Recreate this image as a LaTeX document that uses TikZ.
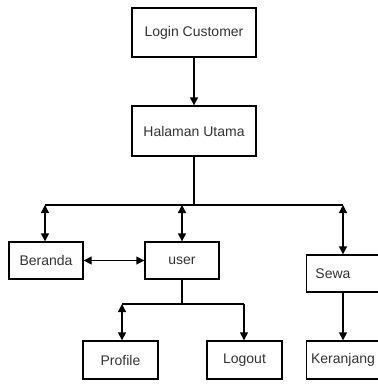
\documentclass[tikz,border=0pt]{standalone}
\usepackage{fontspec}
\setmainfont{Liberation Sans}
\usetikzlibrary{arrows.meta}
\begin{document}
\begin{tikzpicture}[x=1pt,y=-1pt,
  box/.style={draw, line width=1.3pt, inner sep=0pt, font=\fontsize{14}{16}\selectfont, text=black!80},
  conn/.style={line width=1.3pt},
  tip/.style={-{Triangle[length=8pt,width=8pt]}},
  tips/.style={{Triangle[length=8pt,width=8pt]}-{Triangle[length=8pt,width=8pt]}}]
\useasboundingbox (0,0) rectangle (378,384);
\node[box, minimum width=124pt, minimum height=49pt] (login) at (194,32.5) {Login Customer};
\node[box, minimum width=124pt, minimum height=50pt] (home) at (194,131) {Halaman Utama};
\node[box, minimum width=74pt, minimum height=37pt] (beranda) at (46,260.5) {Beranda};
\node[box, minimum width=74pt, minimum height=37pt] (user) at (182,260.5) {user};
\node[box, minimum width=74pt, minimum height=37pt, anchor=west] (sewa) at (306,273.5) {};
\node at (333,273.5) [font=\fontsize{14}{16}\selectfont, text=black!80] (sewatxt) {Sewa};
\node[box, minimum width=75pt, minimum height=38pt] (profile) at (120.5,360) {Profile};
\node[box, minimum width=75pt, minimum height=38pt] (logout) at (244.5,360) {Logout};
\node[box, minimum width=80pt, minimum height=38pt, anchor=west] (ker) at (306,360) {};
\node at (343,360) [font=\fontsize{14}{16}\selectfont, text=black!80] (kertxt) {Keranjang};
\coordinate (bus) at (194,205);
\coordinate (bl) at (45,205);
\coordinate (bu) at (182,205);
\coordinate (br) at (343,205);
\coordinate (ub) at (182,304);
\coordinate (pl) at (122,304);
\coordinate (lr) at (244,304);
\draw[conn, tip] (login) -- (home);
\draw[conn] (home.south) -- (bus);
\draw[conn] (bl) -- (br);
\draw[conn, tips] (bl) -- (bl |- beranda.north);
\draw[conn, tips] (bu) -- (user.north);
\draw[conn, tips] (br) -- (br |- sewa.north);
\draw[conn, tips] (beranda) -- (user);
\draw[conn] (user.south) -- (ub);
\draw[conn] (pl) -- (lr);
\draw[conn, tips] (pl) -- (pl |- profile.north);
\draw[conn, tip] (lr) -- (lr |- logout.north);
\draw[conn, tip] (br |- sewa.south) -- (br |- ker.north);
\end{tikzpicture}
\end{document}
